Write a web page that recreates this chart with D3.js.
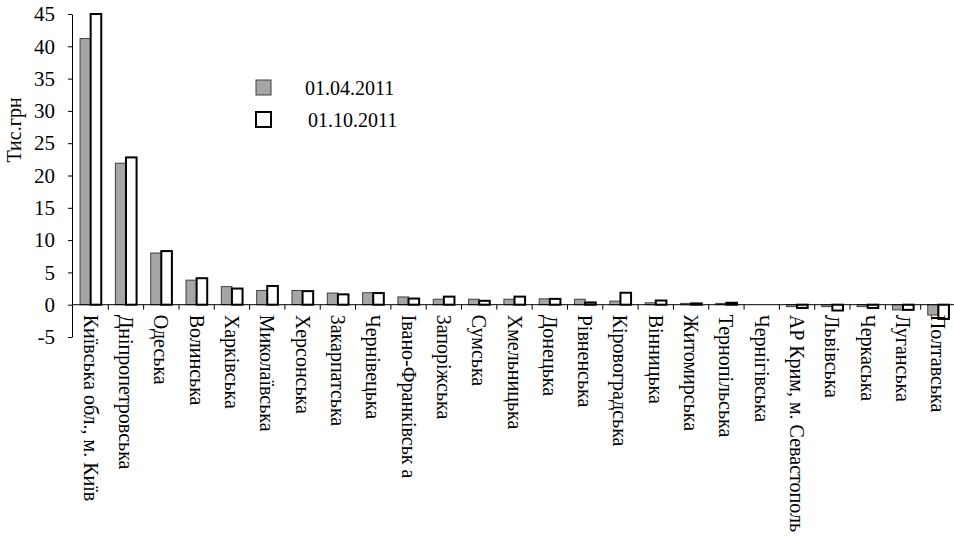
<!DOCTYPE html>
<html>
<head>
<meta charset="utf-8">
<script src="https://cdn.jsdelivr.net/npm/d3@7"></script>
<style>
  body { margin: 0; background: #fff; }
  svg text { font-family: "Liberation Serif", "Times New Roman", "DejaVu Serif", serif !important; fill: #000; }
</style>
</head>
<body>
<div id="chart"></div>
<script>
const regions = [
  "Київська обл., м. Київ", "Дніпропетровська", "Одеська", "Волинська", "Харківська",
  "Миколаївська", "Херсонська", "Закарпатська", "Чернівецька", "Івано-Франківськ а",
  "Запоріжська", "Сумська", "Хмельницька", "Донецька", "Рівненська",
  "Кіровоградська", "Вінницька", "Житомирська", "Тернопільська", "Чернігівська",
  "АР Крим, м. Севастополь", "Львівська", "Черкаська", "Луганська", "Полтавська"
];

const april = [41.2, 21.9, 8.0, 3.8, 2.8, 2.2, 2.2, 1.8, 1.85, 1.2,
  0.85, 0.85, 0.85, 0.9, 0.85, 0.55, 0.3, 0.2, 0.2, 0,
  -0.3, -0.3, -0.3, -0.8, -1.6];

const october = [45.0, 22.8, 8.3, 4.1, 2.5, 2.9, 2.1, 1.6, 1.8, 0.95,
  1.25, 0.6, 1.25, 0.9, 0.35, 1.85, 0.65, 0.2, 0.3, 0,
  -0.5, -0.9, -0.5, -0.8, -2.2];

const seriesNames = ["01.04.2011", "01.10.2011"];
const yTicks = [-5, 0, 5, 10, 15, 20, 25, 30, 35, 40, 45];

const width = 954, height = 536;
const serif = "'Liberation Serif', 'Times New Roman', serif";

const svg = d3.select("#chart")
  .append("svg")
  .attr("width", width)
  .attr("height", height)
  .attr("font-family", serif);

const x = d3.scaleBand().domain(regions).range([73, 956]);
const y = d3.scaleLinear().domain([-5, 45]).range([337, 14]);

const bw = x.bandwidth() * 0.3;

// y axis
const yAxis = svg.append("g")
  .attr("transform", "translate(72,0)")
  .call(d3.axisLeft(y).tickValues(yTicks).tickFormat(d => String(d))
    .tickSize(4).tickSizeOuter(0).tickPadding(13));
yAxis.attr("font-family", serif).attr("font-size", 21);
yAxis.select(".domain").attr("stroke", "#000");
yAxis.selectAll(".tick line").attr("stroke", "#000");

svg.append("text")
  .attr("transform", `translate(14,130) rotate(-90)`)
  .attr("text-anchor", "middle")
  .attr("dominant-baseline", "central")
  .attr("font-size", 20)
  .text("Тис.грн");

// bars
const data = regions.map((r, i) => ({ r, a: april[i], o: october[i] }));

svg.append("g").selectAll("rect")
  .data(data)
  .join("rect")
  .attr("x", d => x(d.r) + x.bandwidth() / 2 - bw)
  .attr("y", d => y(Math.max(0, d.a)))
  .attr("width", bw)
  .attr("height", d => Math.abs(y(d.a) - y(0)))
  .attr("fill", "#a6a6a6")
  .attr("stroke", "#404040")
  .attr("stroke-width", 1);

svg.append("g").selectAll("rect")
  .data(data)
  .join("rect")
  .attr("x", d => x(d.r) + x.bandwidth() / 2)
  .attr("y", d => y(Math.max(0, d.o)))
  .attr("width", bw)
  .attr("height", d => Math.abs(y(d.o) - y(0)))
  .attr("fill", "#fff")
  .attr("stroke", "#000")
  .attr("stroke-width", 2);

// x axis at zero
svg.append("line")
  .attr("x1", 72).attr("x2", width)
  .attr("y1", y(0)).attr("y2", y(0))
  .attr("stroke", "#000");

svg.append("g").selectAll("line")
  .data(regions.slice(1))
  .join("line")
  .attr("x1", d => x(d)).attr("x2", d => x(d))
  .attr("y1", y(0)).attr("y2", y(0) + 5)
  .attr("stroke", "#000");

svg.append("g").selectAll("text")
  .data(regions)
  .join("text")
  .attr("transform", d => `translate(${x(d) + x.bandwidth() / 2},${y(0) + 10}) rotate(90)`)
  .attr("dominant-baseline", "central")
  .attr("font-size", 20)
  .text(d => d);

// legend
const legend = svg.append("g");
seriesNames.forEach((name, i) => {
  const ly = 80 + i * 32;
  legend.append("rect")
    .attr("x", 256).attr("y", ly)
    .attr("width", 15).attr("height", 15)
    .attr("fill", i === 0 ? "#a6a6a6" : "#fff")
    .attr("stroke", i === 0 ? "#404040" : "#000")
    .attr("stroke-width", i === 0 ? 1 : 2);
  legend.append("text")
    .attr("x", i === 0 ? 305 : 308)
    .attr("y", ly + 7.5)
    .attr("dominant-baseline", "central")
    .attr("font-size", 20)
    .text(name);
});
</script>
</body>
</html>
